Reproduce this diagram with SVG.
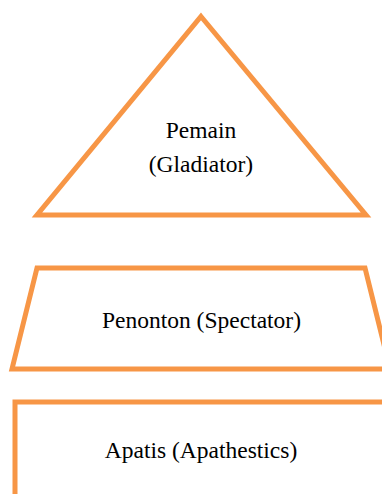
<svg xmlns="http://www.w3.org/2000/svg" width="382" height="494" viewBox="0 0 382 494">
<style>
.shape{fill:#FFFFFF;stroke:#F79646;stroke-width:5;stroke-linejoin:miter}
.lbl{font-family:"Liberation Serif","Times New Roman",serif;font-size:23.5px;fill:#000000;text-anchor:middle}
</style>
<rect width="382" height="494" fill="#FFFFFF"/>
<g id="gladiator">
<polygon class="shape" points="201,16.5 366,215 37,215"/>
<text class="lbl" x="201" y="138">Pemain</text>
<text class="lbl" x="201" y="172">(Gladiator)</text>
</g>
<g id="spectator">
<polygon class="shape" points="37,268 365,268 390,369 12,369"/>
<text class="lbl" x="201.5" y="328">Penonton (Spectator)</text>
</g>
<g id="apathetics">
<rect class="shape" x="15" y="402" width="400" height="120"/>
<text class="lbl" x="201" y="458">Apatis (Apathestics)</text>
</g>
<g id="connectors"></g>
</svg>
